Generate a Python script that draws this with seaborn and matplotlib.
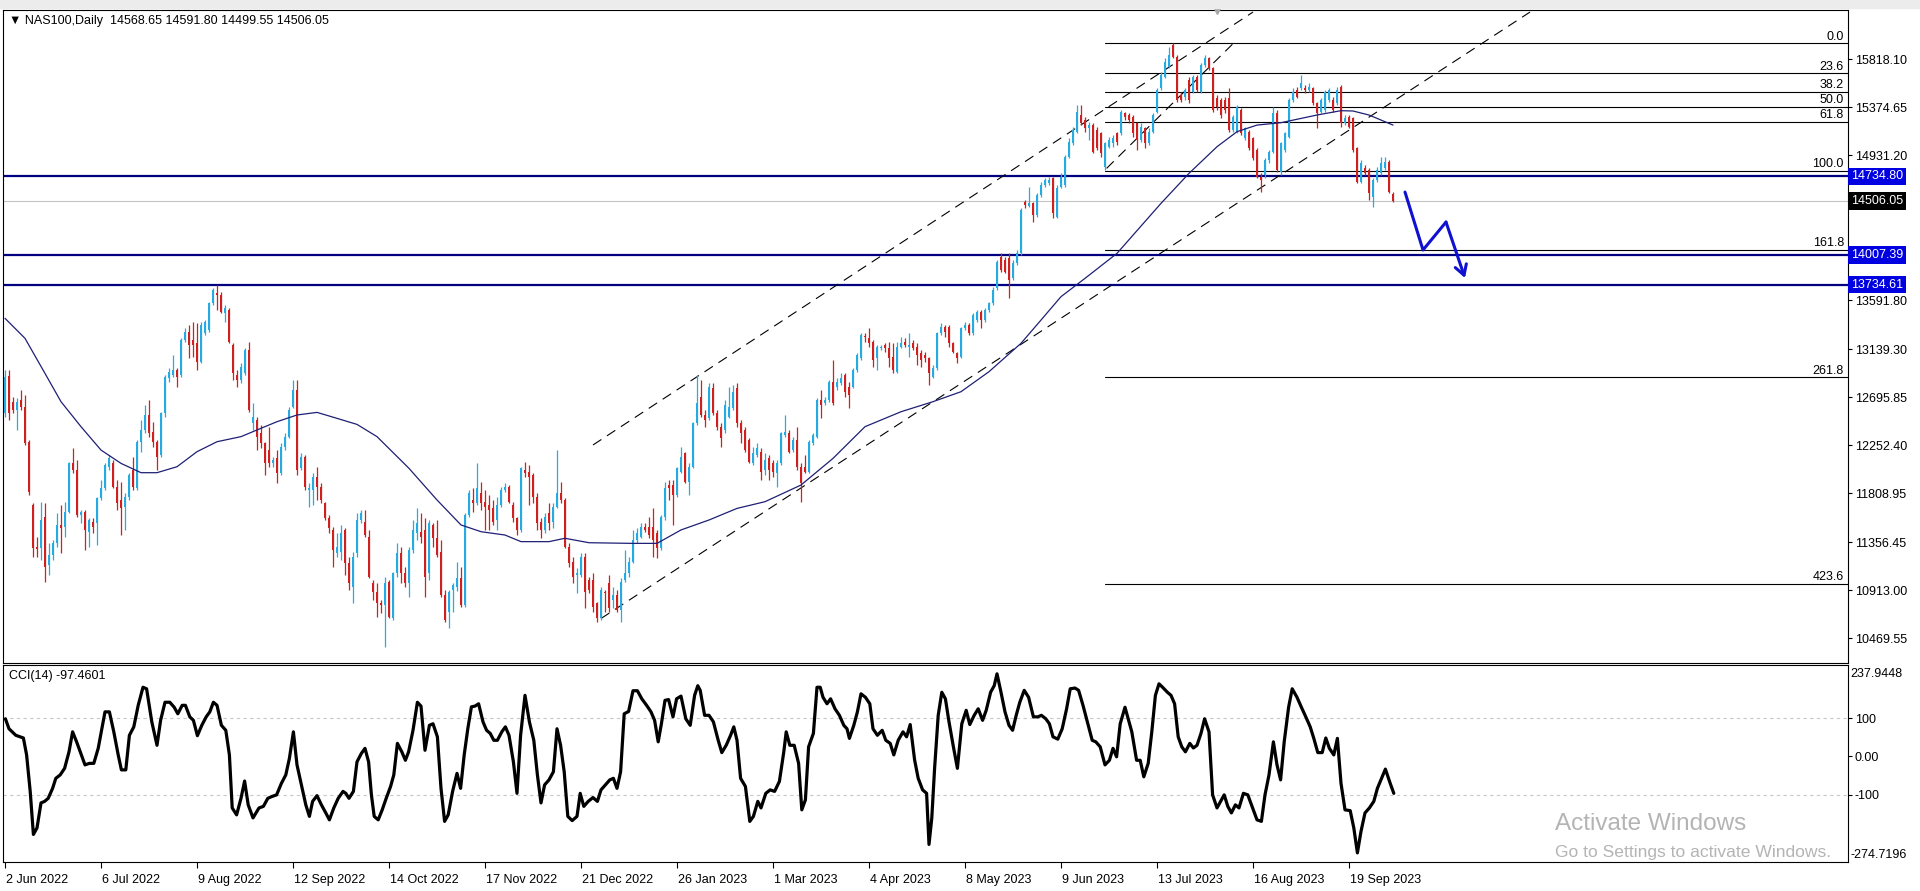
import matplotlib
matplotlib.use("Agg")
import matplotlib.pyplot as plt
import matplotlib.transforms as mtransforms
from matplotlib.patches import Rectangle
import numpy as np
import pandas as pd
import seaborn as sns

# ---- daily candles (bar 0 = 2 Jun 2022) ----
opens = [
    12545, 12890, 12653, 12576, 12668, 12607, 12283, 11698, 11313, 11298,
    11591, 11144, 11236, 11344, 11514, 11498, 11637, 12089, 12022, 11606,
    11637, 11452, 11544, 11529, 11760, 11852, 12052, 12089, 11868, 11744,
    11683, 11775, 12022, 11852, 12283, 12391, 12530, 12376, 12283, 12160,
    12545, 12868, 12899, 12945, 12899, 13222, 13299, 13222, 13192, 13022,
    13284, 13315, 13561, 13660, 13638, 13469, 13500, 13176, 12899, 12853,
    12914, 13130, 12453, 12483, 12360, 12268, 12206, 12083, 12129, 11991,
    12237, 12330, 12607, 12761, 12037, 12145, 11837, 11837, 11960, 11868,
    11714, 11575, 11467, 11252, 11267, 11467, 11160, 10940, 11252, 11560,
    11545, 11406, 10975, 10898, 10790, 10775, 10990, 10652, 11067, 11252,
    11067, 10975, 11283, 11437, 11452, 11468, 11067, 11514, 11391, 11267,
    10867, 10713, 10913, 10944, 11021, 10775, 11606, 11745, 11714, 11806,
    11729, 11698, 11668, 11560, 11698, 11837, 11868, 11698, 11575, 11468,
    12022, 12006, 11976, 11775, 11545, 11468, 11621, 11545, 11683, 11806,
    11745, 11314, 11175, 11052, 11052, 11221, 11006, 11006, 10790, 10652,
    10898, 10975, 10821, 10867, 10729, 11006, 11067, 11175, 11375, 11406,
    11498, 11498, 11498, 11437, 11298, 11591, 11883, 11883, 11791, 12006,
    12176, 11914, 12053, 12453, 12699, 12530, 12499, 12776, 12545, 12422,
    12391, 12514, 12591, 12776, 12453, 12391, 12299, 12083, 12160, 12191,
    12022, 12129, 12083, 11991, 12083, 12345, 12360, 12207, 12299, 12052,
    12052, 12006, 12268, 12330, 12668, 12637, 12668, 12837, 12791, 12822,
    12899, 12791, 12791, 12945, 13053, 13253, 13238, 13207, 13053, 13145,
    13176, 13145, 13069, 12930, 13161, 13207, 13161, 13192, 13161, 13099,
    13084, 13053, 12884, 12961, 13284, 13346, 13346, 13192, 13099, 13069,
    13330, 13361, 13284, 13407, 13484, 13407, 13500, 13561, 13700, 13992,
    13961, 13977, 13792, 13931, 14023, 14500, 14460, 14485, 14377, 14562,
    14654, 14670, 14716, 14362, 14639, 14654, 14916, 15039, 15147, 15301,
    15255, 15178, 15208, 15162, 15131, 14823, 15008, 15039, 15131, 15131,
    15316, 15301, 15285, 15224, 15070, 15178, 15039, 15147, 15332, 15547,
    15655, 15747, 15947, 15840, 15485, 15470, 15624, 15516, 15655, 15516,
    15763, 15824, 15732, 15455, 15439, 15439, 15455, 15162, 15147, 15347,
    15085, 15147, 15085, 14977, 14731, 14747, 14885, 14962, 15316, 14777,
    14977, 15101, 15439, 15532, 15547, 15547, 15532, 15547, 15409, 15332,
    15347, 15439, 15439, 15409, 15562, 15224, 15285, 15270, 14993, 14685,
    14808, 14793, 14546, 14700, 14762, 14808, 14870, 14568.65,
]
highs = [
    12945, 12945, 12699, 12684, 12761, 12714, 12299, 11714, 11406, 11729,
    11714, 11344, 11375, 11621, 11698, 11729, 12099, 12222, 12114, 11652,
    11652, 11575, 11575, 11775, 11929, 12083, 12160, 12114, 11929, 11914,
    11806, 11991, 12145, 12299, 12483, 12622, 12668, 12468, 12299, 12560,
    12899, 12961, 13084, 12961, 13238, 13330, 13361, 13392, 13376, 13392,
    13407, 13576, 13700, 13730, 13669, 13546, 13515, 13192, 12945, 13007,
    13145, 13207, 12637, 12514, 12437, 12283, 12422, 12145, 12206, 12268,
    12360, 12607, 12853, 12853, 12176, 12160, 11898, 11991, 12052, 11898,
    11729, 11606, 11498, 11437, 11514, 11483, 11221, 11260, 11621, 11652,
    11652, 11468, 11006, 10975, 10821, 11036, 11006, 11083, 11344, 11314,
    11129, 11314, 11560, 11668, 11621, 11575, 11560, 11529, 11560, 11375,
    10913, 10913, 10975, 11175, 11129, 11621, 11837, 11852, 12083, 11914,
    11837, 11791, 11745, 11775, 11868, 11899, 11883, 11729, 11591, 12053,
    12099, 12068, 11991, 11806, 11575, 11621, 11714, 11714, 12207, 11914,
    11760, 11344, 11221, 11113, 11252, 11252, 11036, 11067, 10806, 10944,
    10913, 11052, 10944, 10913, 11021, 11283, 11221, 11468, 11483, 11529,
    11529, 11591, 11668, 11468, 11606, 11914, 11929, 11929, 12053, 12237,
    12191, 12083, 12468, 12899, 12853, 12576, 12822, 12822, 12576, 12453,
    12668, 12791, 12807, 12822, 12484, 12422, 12314, 12237, 12268, 12222,
    12176, 12160, 12114, 12114, 12376, 12530, 12391, 12330, 12422, 12083,
    12160, 12299, 12360, 12684, 12761, 12699, 12853, 13038, 12868, 12914,
    12914, 12837, 12961, 13099, 13284, 13284, 13330, 13222, 13176, 13176,
    13192, 13207, 13192, 13207, 13253, 13238, 13284, 13222, 13192, 13130,
    13115, 13069, 12992, 13299, 13377, 13361, 13361, 13207, 13115, 13346,
    13392, 13377, 13469, 13500, 13500, 13515, 13577, 13715, 13961, 14023,
    13992, 14023, 13961, 14054, 14439, 14516, 14639, 14500, 14577, 14685,
    14716, 14731, 14731, 14654, 14762, 14931, 15085, 15193, 15393, 15393,
    15285, 15239, 15224, 15193, 15147, 15054, 15101, 15116, 15147, 15347,
    15332, 15316, 15301, 15239, 15224, 15193, 15178, 15316, 15547, 15701,
    15824, 15932, 15963, 15855, 15516, 15547, 15655, 15670, 15670, 15778,
    15855, 15840, 15747, 15485, 15455, 15470, 15547, 15301, 15393, 15362,
    15193, 15162, 15101, 14993, 14762, 14900, 14977, 15378, 15347, 15054,
    15147, 15455, 15547, 15562, 15670, 15578, 15593, 15562, 15424, 15455,
    15532, 15547, 15470, 15562, 15578, 15301, 15301, 15285, 15008, 14885,
    14839, 14808, 14716, 14823, 14916, 14916, 14885, 14591.80,
]
lows = [
    12514, 12483, 12545, 12391, 12576, 12253, 11791, 11221, 11221, 11190,
    10990, 11052, 11190, 11313, 11252, 11406, 11621, 11991, 11591, 11529,
    11283, 11313, 11437, 11329, 11744, 11837, 12022, 11852, 11652, 11421,
    11467, 11744, 11837, 11837, 12191, 12360, 12330, 12237, 12022, 12145,
    12514, 12838, 12884, 12791, 12884, 13207, 13053, 13068, 12945, 13007,
    13269, 13299, 13546, 13500, 13469, 13392, 13192, 12853, 12791, 12822,
    12899, 12560, 12391, 12206, 12222, 11976, 12052, 12052, 11898, 11976,
    12206, 12314, 12591, 11976, 12022, 11837, 11683, 11698, 11744, 11714,
    11560, 11437, 11129, 11221, 11190, 11052, 10913, 10790, 11221, 11529,
    11406, 11021, 10821, 10667, 10698, 10390, 10652, 10636, 11036, 10975,
    10944, 10852, 11252, 11375, 11344, 10852, 11006, 11314, 11221, 10852,
    10621, 10559, 10713, 10900, 10759, 10759, 11591, 11637, 11698, 11652,
    11468, 11468, 11514, 11468, 11683, 11822, 11714, 11545, 11421, 11452,
    11960, 11698, 11714, 11468, 11391, 11437, 11468, 11483, 11668, 11714,
    11298, 11129, 10975, 10883, 11036, 10744, 10883, 10713, 10621, 10636,
    10713, 10713, 10744, 10713, 10621, 10990, 11036, 11160, 11344, 11391,
    11452, 11391, 11221, 11206, 11283, 11560, 11745, 11514, 11775, 11991,
    11899, 11791, 12037, 12437, 12514, 12422, 12484, 12530, 12391, 12237,
    12360, 12499, 12576, 12422, 12268, 12191, 12083, 12068, 12145, 11929,
    11976, 11929, 11960, 11868, 12068, 12330, 12176, 12191, 12022, 11729,
    11991, 11991, 12253, 12314, 12499, 12622, 12653, 12622, 12761, 12807,
    12699, 12591, 12776, 12930, 13038, 13207, 13161, 12976, 12945, 13130,
    13115, 12976, 12914, 12914, 13145, 13161, 13069, 13130, 12992, 12976,
    13022, 12807, 12868, 12945, 13269, 13253, 13161, 13099, 13007, 13053,
    13315, 13269, 13269, 13392, 13330, 13392, 13484, 13546, 13684, 13854,
    13838, 13607, 13777, 13915, 14007, 14439, 14454, 14315, 14362, 14546,
    14639, 14654, 14346, 14346, 14623, 14639, 14900, 15024, 15131, 15208,
    15147, 15070, 14947, 14977, 14916, 14793, 14993, 15008, 15024, 15116,
    15255, 15224, 15101, 14977, 15054, 14993, 15024, 15131, 15316, 15532,
    15640, 15732, 15824, 15424, 15424, 15439, 15409, 15501, 15516, 15501,
    15747, 15716, 15332, 15347, 15270, 15316, 15147, 15147, 15131, 15116,
    15070, 14977, 14885, 14716, 14593, 14716, 14854, 14947, 14777, 14747,
    14962, 15085, 15424, 15455, 15532, 15501, 15516, 15393, 15178, 15316,
    15332, 15424, 15332, 15393, 15193, 15208, 15178, 14962, 14670, 14670,
    14747, 14516, 14454, 14685, 14747, 14793, 14577, 14499.55,
]
closes = [
    12884, 12545, 12576, 12653, 12607, 12268, 11821, 11298, 11289, 11560,
    11129, 11236, 11344, 11514, 11483, 11637, 12083, 12022, 11606, 11637,
    11467, 11560, 11498, 11760, 11852, 12068, 12129, 11868, 11714, 11668,
    11775, 11976, 11868, 12283, 12391, 12530, 12360, 12283, 12145, 12545,
    12884, 12930, 12945, 12884, 13222, 13299, 13176, 13176, 13022, 13361,
    13392, 13561, 13684, 13638, 13484, 13515, 13207, 12914, 12853, 12976,
    13130, 12576, 12514, 12330, 12268, 12083, 12083, 12114, 11991, 12237,
    12330, 12576, 12761, 12022, 12145, 11868, 11852, 11960, 11868, 11744,
    11575, 11483, 11283, 11313, 11437, 11160, 10975, 11221, 11560, 11621,
    11421, 11036, 10898, 10790, 10775, 10975, 10667, 11067, 11252, 11067,
    10975, 11283, 11468, 11529, 11406, 11036, 11529, 11391, 11237, 10867,
    10636, 10898, 10960, 11021, 10775, 11606, 11806, 11714, 11852, 11714,
    11683, 11652, 11545, 11698, 11837, 11868, 11729, 11575, 11468, 12037,
    11991, 11960, 11775, 11529, 11468, 11591, 11529, 11683, 11806, 11745,
    11314, 11160, 11036, 11067, 11221, 10898, 10913, 10759, 10652, 10913,
    10883, 10744, 10867, 10729, 10990, 11067, 11175, 11375, 11437, 11498,
    11468, 11421, 11375, 11298, 11591, 11852, 11852, 11791, 12037, 12145,
    11914, 12053, 12453, 12638, 12530, 12484, 12791, 12545, 12422, 12314,
    12622, 12607, 12745, 12453, 12360, 12207, 12099, 12176, 12222, 12006,
    12114, 12022, 12006, 12083, 12360, 12376, 12191, 12299, 12052, 11899,
    12006, 12283, 12345, 12668, 12622, 12668, 12837, 12637, 12837, 12868,
    12745, 12714, 12945, 13084, 13269, 13247, 13192, 13038, 13161, 13161,
    13145, 13053, 12945, 13161, 13192, 13176, 13176, 13145, 13084, 13038,
    13053, 12914, 12961, 13284, 13346, 13299, 13192, 13115, 13053, 13330,
    13361, 13284, 13453, 13484, 13407, 13500, 13561, 13684, 13946, 13869,
    13854, 13777, 13931, 14023, 14423, 14469, 14485, 14377, 14562, 14654,
    14700, 14700, 14392, 14623, 14731, 14916, 15054, 15162, 15332, 15224,
    15178, 15208, 14962, 14993, 14947, 15039, 15070, 15085, 15054, 15332,
    15285, 15255, 15131, 15070, 15193, 15039, 15147, 15301, 15532, 15670,
    15793, 15855, 15840, 15439, 15439, 15532, 15439, 15655, 15532, 15763,
    15824, 15732, 15347, 15378, 15301, 15347, 15162, 15285, 15378, 15131,
    15178, 14993, 14900, 14731, 14700, 14885, 14962, 15316, 14793, 15039,
    15131, 15439, 15516, 15470, 15593, 15532, 15562, 15409, 15316, 15439,
    15516, 15532, 15347, 15532, 15224, 15270, 15193, 14977, 14685, 14854,
    14762, 14577, 14700, 14793, 14854, 14870, 14593, 14506.05,
]

# moving average (thin navy line), read at sample bars
ma_bar = [0, 5, 10, 14, 19, 24, 29, 34, 38, 43, 48, 53, 59, 64, 68, 73, 78, 83, 88, 93,
          101, 108, 114, 119, 125, 129, 136, 140, 146, 157, 163, 169, 176, 183, 190, 199,
          207, 215, 224, 232, 239, 246, 254, 259, 264, 270, 278, 289, 296, 303, 308, 313,
          319, 328, 334, 337, 341, 347]
ma_val = [13423, 13238, 12914, 12653, 12422, 12206, 12083, 11997, 11997, 12052, 12191,
          12283, 12330, 12407, 12468, 12530, 12554, 12499, 12443, 12330, 12037, 11745,
          11514, 11452, 11421, 11360, 11360, 11391, 11350, 11344, 11344, 11468, 11560,
          11667, 11729, 11883, 12129, 12422, 12560, 12653, 12745, 12930, 13192, 13407,
          13623, 13792, 14023, 14485, 14762, 15008, 15147, 15208, 15230, 15301, 15341,
          15338, 15301, 15208]

# CCI(14) panel
cci_bar = [
    0.1, 1.0, 2.7, 3.8, 4.6, 5.4, 6.3, 7.1, 8.0, 9.0,
    9.9, 10.8, 11.9, 12.7, 13.8, 14.9, 16.0, 16.9, 17.9, 19.1,
    20.0, 21.1, 22.2, 23.3, 24.2, 25.0, 26.1, 27.2, 28.3, 29.1,
    30.2, 31.1, 32.2, 33.3, 34.5, 35.4, 36.7, 38.0, 38.9, 40.0,
    41.2, 42.3, 43.2, 44.3, 45.1, 46.2, 47.1, 48.1, 49.2, 50.3,
    51.2, 52.1, 53.0, 54.1, 55.2, 56.1, 56.8, 57.9, 59.0, 59.9,
    60.8, 62.0, 63.5, 64.6, 65.7, 66.8, 67.9, 69.1, 70.2, 71.1,
    72.1, 73.0, 74.1, 75.2, 76.1, 76.9, 78.0, 79.1, 80.2, 81.1,
    82.2, 83.3, 84.5, 85.2, 86.0, 87.1, 88.0, 89.1, 90.0, 90.9,
    91.6, 92.3, 93.3, 94.3, 95.3, 96.4, 97.2, 98.1, 99.2, 100.1,
    100.9, 102.0, 103.1, 104.0, 105.0, 106.1, 107.0, 108.1, 109.0, 109.9,
    110.8, 111.9, 113.0, 113.9, 114.8, 115.7, 116.6, 117.5, 118.4, 119.5,
    120.4, 121.3, 122.2, 123.1, 124.2, 125.1, 126.0, 127.1, 128.0, 128.9,
    130.0, 131.1, 132.2, 133.1, 134.0, 134.9, 136.0, 137.1, 138.0, 138.9,
    139.8, 140.7, 141.8, 143.0, 143.8, 144.7, 145.8, 147.0, 148.1, 149.0,
    150.1, 151.2, 152.1, 153.0, 153.9, 154.8, 155.9, 157.0, 158.1, 159.2,
    160.4, 161.5, 162.4, 163.3, 164.1, 165.0, 165.9, 167.0, 167.9, 169.0,
    170.2, 171.3, 172.4, 173.2,
    173.8, 174.9, 176.0, 177.1, 178.3, 179.2, 180.3, 181.4, 182.2, 183.0,
    183.9, 185.1, 186.2, 187.1, 188.2, 189.0, 190.2, 191.3, 192.4, 193.6,
    194.7, 195.3, 196.2, 197.3, 198.4, 199.2, 200.1, 200.9, 202.1, 203.0,
    203.8, 204.5, 205.5, 206.4, 207.5, 208.6, 209.7, 210.5, 211.1, 212.2,
    213.1, 214.0, 215.1, 216.2, 217.0, 218.1, 219.3, 220.2, 221.3, 222.2,
    223.3, 224.5, 225.4, 226.3, 227.4, 228.3, 229.4, 230.4, 231.0, 231.7,
    232.4, 233.3, 234.2, 235.1, 236.0, 237.1, 238.1, 239.2, 240.3, 241.2,
    242.3, 243.3, 244.4, 245.3, 246.4, 247.3, 248.0, 248.9, 250.0, 251.0,
    251.9, 252.8, 253.7, 254.8, 255.9, 257.1, 258.2, 259.1, 260.2, 261.1,
    262.0, 263.2, 264.3, 265.4, 266.3, 267.5, 268.4, 269.5, 270.6, 271.8,
    272.7, 273.8, 275.0, 276.1, 277.0, 277.9, 278.8, 280.0, 280.8, 281.7,
    282.9, 283.8, 284.7, 285.8, 286.7, 287.6, 288.5, 289.4, 290.6, 291.5,
    292.4, 293.3, 294.2, 295.1, 296.2, 297.1, 298.0, 299.0, 299.9, 301.0,
    301.9, 303.0, 303.9, 304.8, 305.7, 306.6, 307.6, 308.5, 309.6, 310.7,
    311.9, 313.0, 314.1, 315.0, 316.0, 317.1, 318.0, 318.9, 319.8, 320.9,
    321.8, 323.0, 324.1, 325.2, 326.3, 327.2, 328.2, 329.3, 330.2, 331.1,
    332.2, 333.1, 334.0, 335.0, 336.3, 337.2, 338.1, 339.0, 340.0, 341.1,
    342.2, 343.1, 344.3, 345.1, 346.3, 347.2,
]
cci_val = [
    98, 72, 55, 51, 48, 4, -91, -203, -186, -121,
    -117, -109, -83, -57, -48, -31, 12, 64, 38, 4,
    -22, -18, -18, 21, 72, 116, 116, 64, 4, -35,
    -35, 55, 77, 133, 180, 176, 90, 29, 94, 141,
    141, 128, 111, 133, 133, 103, 94, 54, 81, 103,
    116, 141, 133, 81, 68, 4, -134, -152, -109, -64,
    -126, -160, -134, -130, -109, -104, -100, -70, -48, -5,
    64, -22, -74, -126, -156, -117, -102, -126, -147, -165,
    -134, -109, -91, -96, -109, -91, -14, 8, 21, -14,
    -100, -156, -165, -139, -109, -78, -48, 34, 12, -10,
    12, 68, 141, 131, 16, 81, 85, 51, -83, -169,
    -152, -91, -44, -83, 4, 72, 129, 131, 137, 90,
    68, 60, 42, 42, 64, 77, 55, -14, -96, 55,
    159, 90, 42, -48, -121, -74, -61, -40, 72, 29,
    -40, -156, -167, -156, -96, -130, -117, -107, -117, -87,
    -74, -61, -57, -83, -40, 111, 117, 171, 171, 150,
    133, 116, 94, 38, 85, 146, 148, 103, 150, 157,
    98, 81, 159, 184,
    172, 107, 107, 90, 42, 10, 29, 55, 77, 42,
    -57, -78, -169, -156, -117, -134, -96, -87, -91, -65,
    12, 64, 29, 29, -18, -139, -113, 25, 60, 180,
    180, 154, 137, 150, 124, 107, 81, 72, 47, 81,
    116, 163, 154, 137, 72, 55, 68, 42, 34, 4,
    42, 64, 51, 83, -9, -57, -87, -96, -229, -160,
    -31, 107, 167, 150, 90, 25, -31, 85, 120, 83,
    107, 124, 94, 120, 167, 184, 215, 172, 116, 81,
    68, 107, 141, 172, 154, 103, 103, 107, 98, 85,
    51, 45, 72, 124, 176, 178, 172, 133, 90, 42,
    38, 25, -22, -10, 21, -1, 85, 128, 98, 64,
    -10, -10, -53, -18, 64, 159, 189, 180, 167, 159,
    137, 51, 25, 12, 34, 22, 29, 60, 98, 64,
    -100, -134, -117, -100, -130, -147, -126, -134, -96, -100,
    -134, -165, -169, -100, -48, 38, -22, -61, 38, 128,
    176, 154, 128, 103, 77, 47, 10, 10, 48, 21,
    4, 47, -70, -139, -141, -186, -251, -195, -147, -134,
    -117, -83, -53, -33, -70, -96,
]

date_ticks = [0, 24, 48, 72, 96, 120, 144, 168, 192, 216, 240, 264, 288, 312, 336]
date_labels = ["2 Jun 2022", "6 Jul 2022", "9 Aug 2022", "12 Sep 2022", "14 Oct 2022",
               "17 Nov 2022", "21 Dec 2022", "26 Jan 2023", "1 Mar 2023", "4 Apr 2023",
               "8 May 2023", "9 Jun 2023", "13 Jul 2023", "16 Aug 2023", "19 Sep 2023"]

price_ticks = [15818.10, 15374.65, 14931.20, 13591.80, 13139.30, 12695.85,
               12252.40, 11808.95, 11356.45, 10913.00, 10469.55]
key_levels = [14734.80, 14007.39, 13734.61]
last_price = 14506.05

fib_levels = [0.0, 23.6, 38.2, 50.0, 61.8, 100.0, 161.8, 261.8, 423.6]
fib_high = 15963
fib_low = 14785
fib_start = 275

# dashed trend channel lines (bar, price) end points
chan_upper = ([147, 312], [12253, 16252])
chan_lower = ([149, 381.25], [10650, 16252])
chan_short = ([275.4, 307.5], [14808, 15978])

# hand drawn projection arrow
arrow_bar = [350, 354.5, 360.25, 365]
arrow_price = [14589, 14054, 14312, 13795]

BULL = "#27a9e1"
BEAR = "#cf1f1f"
NAVY = "#000080"

sns.set_theme(style="white")
plt.rcParams["font.family"] = ["Liberation Sans", "DejaVu Sans"]

W, H = 1920, 891
fig = plt.figure(figsize=(W / 100, H / 100), dpi=100)
fig.patch.set_facecolor("white")


def px_box(x0, y0, x1, y1):
    return [x0 / W, 1 - y1 / H, (x1 - x0) / W, (y1 - y0) / H]


ax = fig.add_axes(px_box(3, 10, 1848, 663))
axc = fig.add_axes(px_box(3, 665, 1848, 862), sharex=ax)
XMAX = 460.75

# candles
n = min(len(opens), len(highs), len(lows), len(closes))
df = pd.DataFrame({"open": opens[:n], "high": highs[:n], "low": lows[:n], "close": closes[:n]})
df["bar"] = np.arange(n)
col = np.where(df["close"] >= df["open"], BULL, BEAR)
ax.vlines(df["bar"], df["low"], df["high"], colors=col, linewidth=0.9, zorder=3)
body_lo = np.minimum(df["open"], df["close"])
body_h = np.maximum((df["close"] - df["open"]).abs(), 9)
ax.bar(df["bar"], body_h, bottom=body_lo, width=0.72, color=col, linewidth=0, zorder=4)

sns.lineplot(x=ma_bar, y=ma_val, ax=ax, color="#1f1f75", linewidth=0.9,
             estimator=None, sort=False, zorder=5)

# horizontal levels
for v in key_levels:
    ax.axhline(v, color=NAVY, lw=1.6, zorder=2)
ax.axhline(last_price, color="#c4c4c4", lw=0.8, zorder=1)

rng = fib_high - fib_low
for lvl in fib_levels:
    p = fib_high - lvl / 100 * rng
    ax.plot([fib_start, XMAX], [p, p], color="black", lw=0.8, zorder=2)
    ax.annotate(f"{lvl:.1f}", xy=(1, p), xycoords=("axes fraction", "data"),
                xytext=(-3, 0.5), textcoords="offset points", ha="right", va="bottom",
                fontsize=9, color="black")

for xs, ys in (chan_upper, chan_lower, chan_short):
    ax.plot(xs, ys, color="black", lw=0.8, linestyle=(0, (9, 6)), zorder=2)

ax.plot(arrow_bar[:-1], arrow_price[:-1], color="#1010d0", lw=2.2,
        solid_joinstyle="round", solid_capstyle="round", zorder=6)
ax.annotate("", xy=(arrow_bar[-1], arrow_price[-1]), xytext=(arrow_bar[-2], arrow_price[-2]),
            arrowprops=dict(arrowstyle="->,head_length=0.6,head_width=0.35",
                            color="#1010d0", lw=2.2, shrinkA=0, shrinkB=0), zorder=6)

ax.set_xlim(-0.5, XMAX)
ax.set_ylim(10239, 16271)
ax.yaxis.tick_right()
ax.set_yticks(price_ticks)
ax.set_yticklabels([f"{v:.2f}" for v in price_ticks])
ax.tick_params(axis="y", right=True, left=False, length=3, width=0.8, direction="out",
               labelsize=9, pad=2, colors="black")
ax.tick_params(axis="x", bottom=False, labelbottom=False)

tr = mtransforms.blended_transform_factory(ax.transAxes, ax.transData)
for v in key_levels:
    ax.text(1.0015, v, f"{v:.2f}", transform=tr, ha="left", va="center", fontsize=9,
            color="white", clip_on=False, zorder=10,
            bbox=dict(boxstyle="square,pad=0.22", fc="#0000e0", ec="none"))
ax.text(1.0015, last_price, f"{last_price:.2f}", transform=tr, ha="left", va="center",
        fontsize=9, color="white", clip_on=False, zorder=10,
        bbox=dict(boxstyle="square,pad=0.22", fc="black", ec="none"))

ax.text(6 / 1845, 1 - 11 / 653, "\u25bc NAS100,Daily  14568.65 14591.80 14499.55 14506.05",
        transform=ax.transAxes, ha="left", va="center", fontsize=9, color="black")
ax.plot([303], [16271], marker="v", color="#a8a8a8", ms=6, clip_on=False, zorder=7)

# CCI panel
sns.lineplot(x=cci_bar, y=cci_val, ax=axc, color="black", linewidth=2.3,
             estimator=None, sort=False)
for lv in (100, -100):
    axc.axhline(lv, color="#c8c8c8", lw=0.8, linestyle=(0, (3, 3)), zorder=0)
axc.set_ylim(-274.7196, 237.9448)
axc.yaxis.tick_right()
axc.set_yticks([100, 0, -100])
axc.set_yticklabels(["100", "0.00", "-100"])
axc.tick_params(axis="y", right=True, left=False, length=3, width=0.8, direction="out",
                labelsize=9, pad=2, colors="black")
axc.text(1.0015, 1 - 3 / 197, "237.9448", transform=axc.transAxes, ha="left", va="top",
         fontsize=9, color="black")
axc.text(1.0015, 0.5 / 197, "-274.7196", transform=axc.transAxes, ha="left", va="bottom",
         fontsize=9, color="black")
axc.text(6 / 1845, 1 - 11 / 197, "CCI(14) -97.4601", transform=axc.transAxes,
         ha="left", va="center", fontsize=9, color="black")

axc.set_xticks(date_ticks)
axc.tick_params(axis="x", bottom=True, length=4, width=0.8, direction="out",
                labelbottom=False, colors="black")
for b, lab in zip(date_ticks, date_labels):
    axc.annotate(lab, xy=(b, 0), xycoords=("data", "axes fraction"), xytext=(1, -13),
                 textcoords="offset points", ha="left", va="center", fontsize=9,
                 color="black", annotation_clip=False)

for a in (ax, axc):
    a.set_xlabel("")
    a.set_ylabel("")
    for s in a.spines.values():
        s.set_color("black")
        s.set_linewidth(0.8)

# window chrome and watermark
fig.patches.append(Rectangle((0, 1 - 8 / H), 1, 8 / H, transform=fig.transFigure,
                             color="#ececec", zorder=0))
fig.text(1555 / W, 1 - 824 / H, "Activate Windows", fontsize=17.5, color="#b4b4b4",
         ha="left", va="center")
fig.text(1555 / W, 1 - 853 / H, "Go to Settings to activate Windows.", fontsize=12.6,
         color="#b4b4b4", ha="left", va="center")

fig.savefig("out.png", dpi=100)
